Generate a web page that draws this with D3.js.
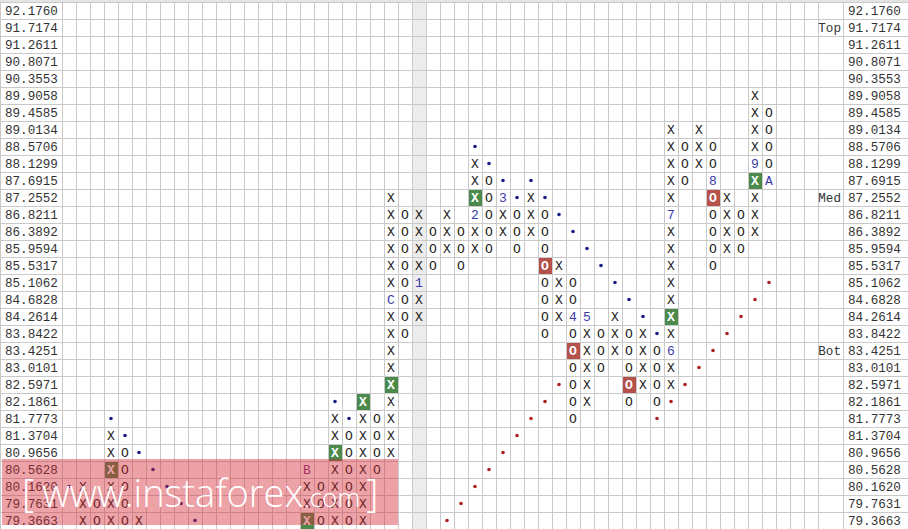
<!DOCTYPE html>
<html>
<head>
<meta charset="utf-8">
<script src="https://cdn.jsdelivr.net/npm/d3@7/dist/d3.min.js"></script>
<style>
  html, body { margin: 0; padding: 0; background: #ffffff; }
  svg { display: block; }
</style>
</head>
<body>
<script>
// ---------- DATA ----------
const priceLevels = ["92.1760","91.7174","91.2611","90.8071","90.3553","89.9058","89.4585","89.0134",
  "88.5706","88.1299","87.6915","87.2552","86.8211","86.3892","85.9594","85.5317","85.1062","84.6828",
  "84.2614","83.8422","83.4251","83.0101","82.5971","82.1861","81.7773","81.3704","80.9656","80.5628",
  "80.1620","79.7631","79.3663"];
const nColumns = 54;

// P&F columns: column slot, type, top box, bottom box
const colSlot = [1,2,3,4,5,17,18,19,20,21,22,23,24,25,26,27,28,29,30,31,32,33,34,35,36,37,38,39,40,41,42,43,44,45,46,47,48,49,50];
const colType = ["X","O","X","O","X","X","O","X","O","X","O","X","O","X","O","X","O","X","O","X","O","X","O","X","O","X","O","X","O","X","O","X","O","X","O","X","O","X","O"];
const colTop = ["80.1620","79.7631","81.3704","80.9656","79.3663","80.5628","80.1620","81.7773","81.3704","82.1861",
  "81.7773","87.2552","86.8211","86.8211","86.3892","86.8211","86.3892","88.1299","87.6915","87.2552","86.8211",
  "87.2552","86.8211","85.5317","85.1062","84.2614","83.8422","84.2614","83.8422","83.8422","83.4251","89.0134",
  "88.5706","89.0134","88.5706","87.2552","86.8211","89.9058","89.4585"];
const colBottom = ["79.3663","79.3663","79.3663","79.3663","79.3663","79.3663","79.3663","79.3663","79.3663","79.3663",
  "80.5628","80.9656","83.8422","84.2614","85.5317","85.9594","85.5317","85.9594","85.9594","86.3892","85.9594",
  "86.3892","83.8422","84.2614","81.7773","82.1861","83.0101","83.4251","82.1861","82.5971","82.1861","82.5971",
  "87.6915","88.1299","85.5317","85.9594","85.9594","86.3892","87.6915"];

// Month markers replacing a box
const markSlot  = [17,23,25,29,31,36,37,43,43,46,49,50];
const markPrice = ["80.5628","84.6828","85.1062","86.8211","87.2552","84.2614","84.2614","83.4251","86.8211","87.6915","88.1299","87.6915"];
const markText  = ["B","C","1","2","3","4","5","6","7","8","9","A"];

// Highlighted boxes (signals)
const greenSlot  = [3,17,19,21,23,29,43,49];
const greenPrice = ["80.5628","79.3663","80.9656","82.1861","82.5971","87.2552","84.2614","87.6915"];
const redSlot    = [34,36,40,46];
const redPrice   = ["85.5317","83.4251","82.5971","87.2552"];

// Trend lines (dots)
const resistSlot  = [0,3,4,5,6,7,8,9,19,20,29,30,31,32,33,34,35,36,37,38,39,40,41,42];
const resistPrice = ["80.1620","81.7773","81.3704","80.9656","80.5628","80.1620","79.7631","79.3663","82.1861","81.7773",
  "88.5706","88.1299","87.6915","87.2552","87.6915","87.2552","86.8211","86.3892","85.9594","85.5317","85.1062","84.6828","84.2614","83.8422"];
const supportSlot  = [27,28,29,30,31,32,33,34,35,42,43,44,45,46,47,48,49,50];
const supportPrice = ["79.3663","79.7631","80.1620","80.5628","80.9656","81.3704","81.7773","82.1861","82.5971",
  "81.7773","82.1861","82.5971","83.0101","83.4251","83.8422","84.2614","84.6828","85.1062"];

const levelTags = ["Top","Med","Bot"];
const levelTagPrice = ["91.7174","87.2552","83.4251"];
const shadedSlot = [25];

// ---------- LAYOUT ----------
const W = 908, H = 529;
const gridLeft = 62, colW = 14, gridRight = gridLeft + nColumns * colW; // 818
const tagRight = 843;
const topY = 2, rowH = 17;

const svg = d3.select("body").append("svg").attr("width", W).attr("height", H);

const x = d3.scaleBand().domain(d3.range(nColumns)).range([gridLeft, gridRight]).paddingInner(0).paddingOuter(0);
const y = d3.scaleBand().domain(priceLevels).range([topY, topY + priceLevels.length * rowH]);

const cx = c => x(c) + x.bandwidth() / 2;
const cy = p => y(p) + y.bandwidth() / 2;

// top band
svg.append("rect").attr("x", 0).attr("y", 0).attr("width", W).attr("height", topY).attr("fill", "#e4e4e4");

// shaded column
svg.selectAll("rect.shade").data(shadedSlot).join("rect")
  .attr("x", d => x(d)).attr("y", topY).attr("width", x.bandwidth()).attr("height", H - topY)
  .attr("fill", "#ececec");

// grid
const g = svg.append("g").attr("stroke", "#c9c9c9").attr("stroke-width", 1).attr("shape-rendering", "crispEdges");
const hl = d3.range(priceLevels.length + 1).map(i => i < priceLevels.length ? y(priceLevels[i]) : topY + priceLevels.length * rowH);
g.selectAll("line.h").data(hl).join("line")
  .attr("x1", 0).attr("x2", W).attr("y1", d => d + 0.5).attr("y2", d => d + 0.5);
const vlines = [0].concat(d3.range(nColumns + 1).map(c => c < nColumns ? x(c) : gridRight)).concat([tagRight]);
g.selectAll("line.v").data(vlines).join("line")
  .attr("x1", d => d + 0.5).attr("x2", d => d + 0.5).attr("y1", topY).attr("y2", H);

const mono = "'Liberation Mono', 'DejaVu Sans Mono', monospace";

// price labels (left and right)
const lab = svg.append("g").attr("font-family", mono).attr("font-size", 12.6).attr("fill", "#333");
lab.selectAll("text.l").data(priceLevels).join("text")
  .attr("x", 5).attr("y", d => cy(d)).attr("dy", "0.36em").text(d => d);
lab.selectAll("text.r").data(priceLevels).join("text")
  .attr("x", 848).attr("y", d => cy(d)).attr("dy", "0.36em").text(d => d);
lab.selectAll("text.t").data(levelTags).join("text")
  .attr("x", tagRight - 2).attr("text-anchor", "end")
  .attr("y", (d, i) => cy(levelTagPrice[i])).attr("dy", "0.36em").text(d => d);

// build box list from columns
const boxes = [];
colSlot.forEach((c, i) => {
  const i0 = priceLevels.indexOf(colTop[i]), i1 = priceLevels.indexOf(colBottom[i]);
  for (let r = i0; r <= i1; r++) boxes.push({ c, p: priceLevels[r], t: colType[i] });
});
const key = (c, p) => c + "|" + p;
const special = new Set();
markSlot.forEach((c, i) => special.add(key(c, markPrice[i])));
greenSlot.forEach((c, i) => special.add(key(c, greenPrice[i])));
redSlot.forEach((c, i) => special.add(key(c, redPrice[i])));

// highlighted boxes
svg.selectAll("rect.green").data(greenSlot).join("rect")
  .attr("x", d => x(d) + 1).attr("y", (d, i) => y(greenPrice[i]) + 1)
  .attr("width", x.bandwidth() - 1).attr("height", y.bandwidth() - 1).attr("fill", "#4b8a4b");
svg.selectAll("rect.red").data(redSlot).join("rect")
  .attr("x", d => x(d) + 1).attr("y", (d, i) => y(redPrice[i]) + 1)
  .attr("width", x.bandwidth() - 1).attr("height", y.bandwidth() - 1).attr("fill", "#b5504b");

const marks = svg.append("g").attr("font-family", mono).attr("font-size", 13).attr("text-anchor", "middle");
marks.selectAll("text.box").data(boxes.filter(b => !special.has(key(b.c, b.p)))).join("text")
  .attr("x", d => cx(d.c)).attr("y", d => cy(d.p)).attr("dy", "0.36em").attr("fill", "#222").text(d => d.t);
marks.selectAll("text.g").data(greenSlot).join("text")
  .attr("x", d => cx(d)).attr("y", (d, i) => cy(greenPrice[i])).attr("dy", "0.36em")
  .attr("fill", "#fff").attr("font-weight", "bold").text("X");
marks.selectAll("text.r").data(redSlot).join("text")
  .attr("x", d => cx(d)).attr("y", (d, i) => cy(redPrice[i])).attr("dy", "0.36em")
  .attr("fill", "#fff").attr("font-weight", "bold").text("O");
marks.selectAll("text.m").data(markText).join("text")
  .attr("x", (d, i) => cx(markSlot[i])).attr("y", (d, i) => cy(markPrice[i])).attr("dy", "0.36em")
  .attr("fill", d => d === "B" ? "#8a3a8a" : "#3a3aaa").text(d => d);

// dots
svg.selectAll("circle.res").data(resistSlot).join("circle")
  .attr("cx", d => cx(d)).attr("cy", (d, i) => cy(resistPrice[i])).attr("r", 1.8).attr("fill", "#1c1c8a");
svg.selectAll("circle.sup").data(supportSlot).join("circle")
  .attr("cx", d => cx(d)).attr("cy", (d, i) => cy(supportPrice[i])).attr("r", 1.8).attr("fill", "#b02020");

// watermark
const wm = svg.append("g");
wm.append("rect").attr("x", 2).attr("y", 459).attr("width", 396).attr("height", 66)
  .attr("fill", "rgb(210,40,50)").attr("fill-opacity", 0.43);
const wt = wm.append("text").attr("y", 507).attr("fill", "#fff").attr("font-family", "'Open Sans', sans-serif").attr("font-weight", 300);
wt.append("tspan").attr("x", 22).attr("font-size", 38).text("[");
wt.append("tspan").attr("dx", 8).attr("font-size", 38).text("www.instaforex");
wt.append("tspan").attr("font-size", 26).text(".com");
wt.append("tspan").attr("dx", 6).attr("font-size", 38).text("]");
</script>
</body>
</html>
